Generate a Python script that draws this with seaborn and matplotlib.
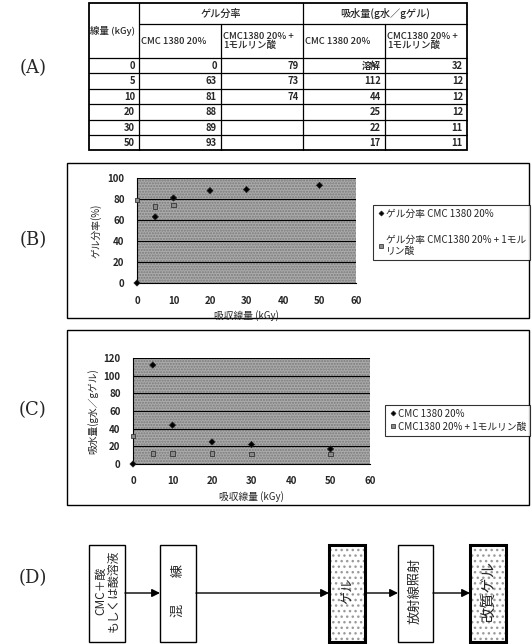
import numpy as np
import pandas as pd
import matplotlib
matplotlib.use("Agg")
import matplotlib.pyplot as plt
import seaborn as sns
from matplotlib.patches import Rectangle

# データ (表と散布図で共通)
dose = [0, 5, 10, 20, 30, 50]
gel_cmc = [0, 63, 81, 88, 89, 93]
gel_acid = [79, 73, 74, None, None, None]
swell_cmc = [None, 112, 44, 25, 22, 17]     # None = 溶解 (グラフでは0)
swell_acid = [32, 12, 12, 12, 11, 11]

name_cmc = "CMC 1380 20%"
name_acid = "CMC1380 20% +\n1モルリン酸"
leg_gel = ["ゲル分率 CMC 1380 20%", "ゲル分率 CMC1380 20% + 1モル\nリン酸"]
leg_swell = ["CMC 1380 20%", "CMC1380 20% + 1モルリン酸"]
flow_steps = ["CMC＋酸\nもしくは酸溶液", "混　　練", "ゲル", "放射線照射", "改質ゲル"]

sns.set_style("white")
plt.rcParams["font.family"] = ["Noto Sans CJK JP", "DejaVu Sans"]

W, H = 532, 644
fig = plt.figure(figsize=(W / 100, H / 100), dpi=100)
base = fig.add_axes([0, 0, 1, 1])
base.set_xlim(0, W)
base.set_ylim(H, 0)
base.axis("off")


def px_axes(x0, y0, x1, y1):
    return fig.add_axes([x0 / W, 1 - y1 / H, (x1 - x0) / W, (y1 - y0) / H])


# パネルラベル
for lab, yy in [("(A)", 68), ("(B)", 240), ("(C)", 410), ("(D)", 578)]:
    base.text(33, yy, lab, fontsize=13, family=["DejaVu Serif"], ha="center", va="center")

# ---- (A) 表 ----
cx = [89, 139, 221, 303, 385, 467]
ry = [3, 24, 58, 73, 89, 104, 120, 135, 150]
lw = 0.9
base.add_patch(Rectangle((cx[0], ry[0]), cx[-1] - cx[0], ry[-1] - ry[0], fill=False, lw=1.3, color="black"))
for x in [cx[1], cx[3]]:
    base.plot([x, x], [ry[0], ry[-1]], color="black", lw=lw)
for x in [cx[2], cx[4]]:
    base.plot([x, x], [ry[1], ry[-1]], color="black", lw=lw)
base.plot([cx[1], cx[-1]], [ry[1], ry[1]], color="black", lw=lw)
for y in ry[2:-1]:
    base.plot([cx[0], cx[-1]], [y, y], color="black", lw=lw)

tfs = 6.8
base.text(cx[0] + 1, (ry[0] + ry[2]) / 2, "線量 (kGy)", fontsize=tfs, va="center", ha="left", fontweight="medium")
base.text((cx[1] + cx[3]) / 2, (ry[0] + ry[1]) / 2, "ゲル分率", fontsize=tfs + 0.5, ha="center", va="center", fontweight="medium")
base.text((cx[3] + cx[5]) / 2, (ry[0] + ry[1]) / 2, "吸水量(g水／gゲル)", fontsize=tfs + 0.5, ha="center", va="center", fontweight="medium")
for j, nm in enumerate([name_cmc, name_acid, name_cmc, name_acid]):
    base.text(cx[j + 1] + 2, (ry[1] + ry[2]) / 2, nm, fontsize=tfs, ha="left", va="center",
              linespacing=1.0, fontweight="medium")

cols = [dose, gel_cmc, gel_acid, swell_cmc, swell_acid]
for i in range(len(dose)):
    yc = (ry[i + 2] + ry[i + 3]) / 2
    for j, col in enumerate(cols):
        v = col[i]
        if v is None:
            s = "溶解" if j == 3 else ""
        else:
            s = str(v)
        base.text(cx[j + 1] - 4, yc, s, fontsize=tfs, ha="right", va="center", fontweight="bold")

# ---- (B)(C) 枠 ----
base.add_patch(Rectangle((67, 163), 462, 155, fill=False, lw=1.0, color="black"))
base.add_patch(Rectangle((67, 330), 462, 175, fill=False, lw=1.0, color="black"))


def scatter_panel(ax, y1, y2, labels, ymax, ylabel, leg_xy, spacing):
    df = pd.DataFrame({
        "dose": dose * 2,
        "value": list(y1) + list(y2),
        "series": [labels[0]] * len(dose) + [labels[1]] * len(dose),
    }).dropna()
    bg = Rectangle((0, 0), 1, 1, transform=ax.transAxes, facecolor="#ababab",
                   hatch="......", edgecolor="#7a7a7a", lw=0, zorder=0)
    ax.add_patch(bg)
    sns.scatterplot(data=df, x="dose", y="value", hue="series", style="series",
                    markers={labels[0]: "D", labels[1]: "s"},
                    palette={labels[0]: "black", labels[1]: "#8a8a8a"},
                    s=10, edgecolor="#222222", linewidth=0.5, clip_on=False, zorder=5, ax=ax)
    ax.set_xlim(0, 60)
    ax.set_ylim(0, ymax)
    ax.set_xticks(range(0, 61, 10))
    ax.set_yticks(range(0, ymax + 1, 20))
    ax.grid(axis="y", color="black", lw=0.8)
    ax.set_axisbelow(False)
    for sp in ["top", "right"]:
        ax.spines[sp].set_visible(False)
    for sp in ["left", "bottom"]:
        ax.spines[sp].set_color("black")
        ax.spines[sp].set_linewidth(0.8)
    ax.tick_params(length=0, pad=9, labelsize=7)
    for t in ax.get_xticklabels() + ax.get_yticklabels():
        t.set_fontweight("bold")
    ax.set_xlabel("吸収線量 (kGy)", fontsize=7, labelpad=3)
    ax.set_ylabel(ylabel, fontsize=7, labelpad=4)
    sns.move_legend(ax, "upper left", bbox_to_anchor=(leg_xy[0] / W, 1 - leg_xy[1] / H),
                    bbox_transform=fig.transFigure, title=None, frameon=True, fancybox=False,
                    edgecolor="black", fontsize=7, labelspacing=spacing, handletextpad=0.1,
                    borderpad=0.4, borderaxespad=0, handlelength=0.8, markerscale=0.8)
    ax.get_legend().get_frame().set_linewidth(0.8)


axB = px_axes(137, 178, 356, 283)
scatter_panel(axB, gel_cmc, gel_acid, leg_gel, 100, "ゲル分率(%)", (373, 205), 1.6)

axC = px_axes(133, 358, 370, 464)
swell_plot = [0 if v is None else v for v in swell_cmc]
scatter_panel(axC, swell_plot, swell_acid, leg_swell, 120, "吸水量(g水／gゲル)", (385, 405), 0.3)

# ---- (D) フロー図 ----
boxes = [(89, 125), (160, 196), (329, 365), (398, 433), (470, 506)]
top, bot = 545, 642
arrow_y = 593
for k, ((x0, x1), txt) in enumerate(zip(boxes, flow_steps)):
    special = k in (2, 4)
    base.add_patch(Rectangle((x0, top), x1 - x0, bot - top, facecolor="white", edgecolor="none", zorder=2))
    if special:
        base.add_patch(Rectangle((x0, top), x1 - x0, bot - top, facecolor="none",
                                 edgecolor="#9a9a9a", lw=0, hatch="...", zorder=2))
    base.add_patch(Rectangle((x0, top), x1 - x0, bot - top, facecolor="none",
                             edgecolor="black", lw=2.2 if special else 1.0, zorder=2))
    fs = 11 if k == 4 else (8.5 if k == 0 else 9.5)
    base.text((x0 + x1) / 2, (top + bot) / 2 - 3, txt, rotation=90, ha="center", va="center",
              fontsize=fs, linespacing=1.0, zorder=3)
for (a0, a1), (b0, b1) in zip(boxes[:-1], boxes[1:]):
    base.annotate("", xy=(b0, arrow_y), xytext=(a1, arrow_y),
                  arrowprops=dict(arrowstyle="-|>", color="black", lw=1.0, mutation_scale=12,
                                  shrinkA=0, shrinkB=0))

fig.savefig("out.png", dpi=100)
